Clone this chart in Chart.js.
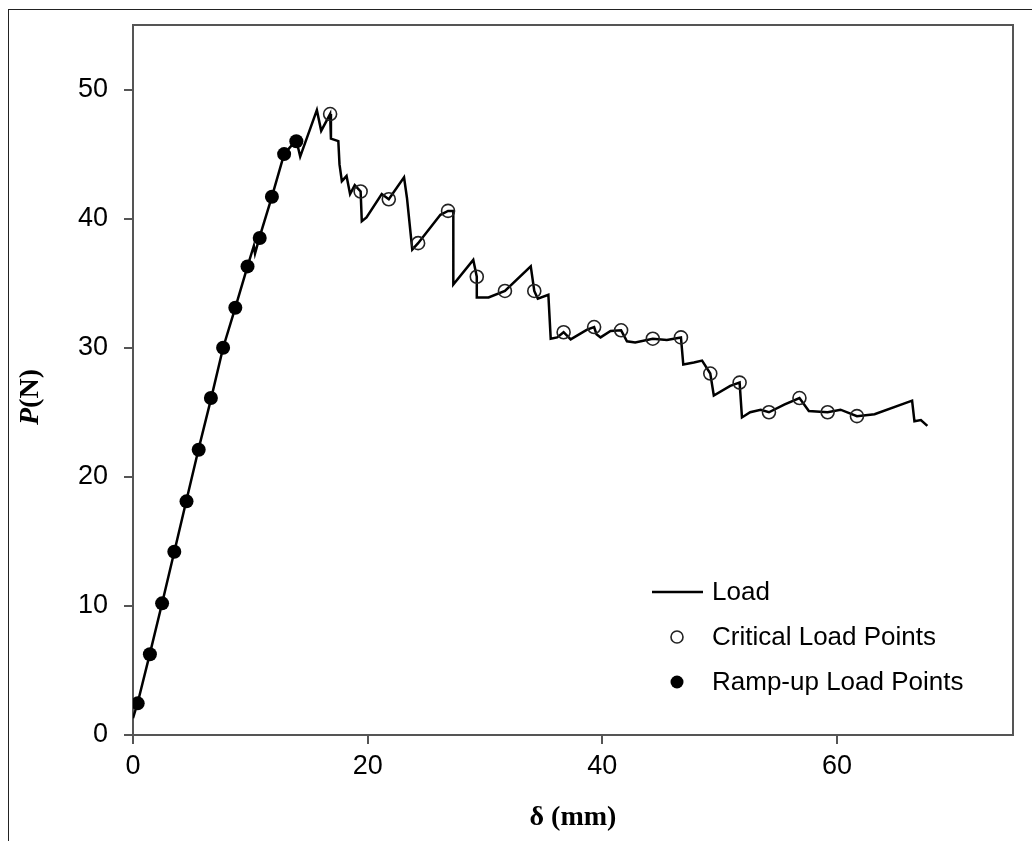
<!DOCTYPE html>
<html><head><meta charset="utf-8">
<script src="https://cdn.jsdelivr.net/npm/chart.js@4/dist/chart.umd.min.js"></script>
<style>
html,body{margin:0;padding:0;background:#fff;}
#wrap{position:relative;width:1032px;height:841px;overflow:hidden;}
#frame{position:absolute;left:8px;top:9px;width:1040px;height:900px;border-left:1.5px solid #222;border-top:1.5px solid #222;pointer-events:none;}
canvas{position:absolute;left:0;top:0;}
</style></head><body>
<div id="wrap"><canvas id="c" width="1032" height="841"></canvas><div id="frame"></div></div>
<script>
// Load curve (delta mm, P N)
const loadX = [0, 0.4, 1.44, 2.48, 3.52, 4.56, 5.6, 6.64, 7.68, 8.72, 9.76, 10.3, 10.4, 10.8, 11.84, 12.88, 13.92, 14.25, 15.67, 16.04, 16.8, 16.87, 17.5, 17.6, 17.8, 18.2, 18.5, 18.9, 19.4, 19.5, 19.9, 21.2, 21.8, 23.1, 23.35, 23.8, 24.3, 26.2, 26.85, 27.3, 27.3, 29.0, 29.3, 29.3, 30.3, 31.7, 33.9, 34.2, 34.5, 35.4, 35.6, 36.15, 36.7, 37.3, 38.7, 39.3, 39.5, 39.85, 40.7, 41.6, 42.1, 42.8, 44.3, 45.5, 46.7, 46.9, 47.8, 48.5, 49.2, 49.5, 50.9, 51.7, 51.9, 52.6, 53.5, 54.2, 55.5, 56.8, 57.2, 57.6, 59.2, 60.3, 61.7, 63.2, 66.4, 66.6, 67.15, 67.7];
const loadY = [1.3, 2.5, 6.3, 10.2, 14.2, 18.2, 22.2, 26.0, 30.0, 33.1, 36.3, 37.9, 37.3, 38.6, 41.7, 45.0, 46.1, 44.8, 48.4, 46.8, 48.1, 46.2, 46.0, 44.2, 42.9, 43.3, 41.9, 42.6, 42.1, 39.8, 40.1, 41.9, 41.5, 43.2, 41.6, 37.6, 38.1, 40.3, 40.6, 40.6, 34.9, 36.8, 35.5, 33.9, 33.9, 34.4, 36.3, 34.4, 33.8, 34.1, 30.7, 30.8, 31.2, 30.65, 31.4, 31.6, 31.05, 30.8, 31.3, 31.35, 30.5, 30.4, 30.7, 30.6, 30.8, 28.7, 28.85, 29.0, 28.0, 26.3, 27.05, 27.3, 24.6, 25.0, 25.2, 25.0, 25.6, 26.1, 25.6, 25.1, 25.0, 25.2, 24.7, 24.85, 25.9, 24.3, 24.4, 23.95];
// Critical load points
const criticalX = [16.8, 19.4, 21.8, 24.3, 26.85, 29.3, 31.7, 34.2, 36.7, 39.3, 41.6, 44.3, 46.7, 49.2, 51.7, 54.2, 56.8, 59.2, 61.7];
const criticalY = [48.1, 42.1, 41.5, 38.1, 40.6, 35.5, 34.4, 34.4, 31.2, 31.6, 31.35, 30.7, 30.8, 28.0, 27.3, 25.0, 26.1, 25.0, 24.7];
// Ramp-up load points
const rampX = [0.4, 1.44, 2.48, 3.52, 4.56, 5.6, 6.64, 7.68, 8.72, 9.76, 10.8, 11.84, 12.88, 13.92];
const rampY = [2.45, 6.25, 10.2, 14.2, 18.1, 22.1, 26.1, 30.0, 33.1, 36.3, 38.5, 41.7, 45.0, 46.0];
// Axis ticks
const xTicks = [0, 20, 40, 60];
const yTicks = [0, 10, 20, 30, 40, 50];
const seriesNames = ['Load', 'Critical Load Points', 'Ramp-up Load Points'];

const pts = (xs, ys) => xs.map((x, i) => ({x: x, y: ys[i]}));
const SANS = '"Liberation Sans", Arial, sans-serif';
const SERIF = '"Liberation Serif", "Times New Roman", serif';

const decor = {
  id: 'decor',
  afterDraw(chart) {
    const ctx = chart.ctx, a = chart.chartArea;
    ctx.save();
    ctx.strokeStyle = '#555'; ctx.lineWidth = 2;
    ctx.beginPath();
    ctx.moveTo(a.left, a.top); ctx.lineTo(a.right, a.top); ctx.lineTo(a.right, a.bottom);
    ctx.stroke();
    ctx.fillStyle = '#000';
    ctx.font = 'bold 28px ' + SERIF;
    ctx.textAlign = 'center'; ctx.textBaseline = 'middle';
    ctx.fillText('δ (mm)', (a.left + a.right) / 2, 818);
    ctx.translate(31, 397);
    ctx.rotate(-Math.PI / 2);
    ctx.textBaseline = 'middle'; ctx.textAlign = 'left';
    const f1 = 'italic bold 28px ' + SERIF, f2 = 'bold 28px ' + SERIF;
    ctx.font = f1; const w1 = ctx.measureText('P').width;
    ctx.font = f2; const w2 = ctx.measureText('(N)').width;
    const x0 = -(w1 + w2) / 2;
    ctx.font = f1; ctx.fillText('P', x0, 0);
    ctx.font = f2; ctx.fillText('(N)', x0 + w1, 0);
    ctx.restore();
    ctx.save();
    const ds = chart.data.datasets;
    ctx.font = '26px ' + SANS;
    ctx.textAlign = 'left'; ctx.textBaseline = 'middle';
    const rows = [592, 637, 682];
    ctx.strokeStyle = ds[0].borderColor; ctx.lineWidth = ds[0].borderWidth;
    ctx.beginPath(); ctx.moveTo(652, rows[0]); ctx.lineTo(703, rows[0]); ctx.stroke();
    ctx.lineWidth = ds[1].borderWidth; ctx.strokeStyle = ds[1].borderColor;
    ctx.beginPath(); ctx.arc(677, rows[1], 6, 0, Math.PI * 2); ctx.stroke();
    ctx.fillStyle = ds[2].backgroundColor;
    ctx.beginPath(); ctx.arc(677, rows[2], 6.5, 0, Math.PI * 2); ctx.fill();
    ctx.fillStyle = '#000';
    seriesNames.forEach((n, i) => ctx.fillText(n, 712, rows[i] + 1));
    ctx.restore();
  }
};

new Chart(document.getElementById('c'), {
  type: 'scatter',
  data: {
    datasets: [
      {label: seriesNames[0], data: pts(loadX, loadY), showLine: true, borderColor: '#000', borderWidth: 2.5,
       pointRadius: 0, fill: false, tension: 0, order: 2},
      {label: seriesNames[1], data: pts(criticalX, criticalY), showLine: false, pointRadius: 6.5, pointStyle: 'circle',
       backgroundColor: 'rgba(0,0,0,0)', borderColor: '#222', borderWidth: 1.6, order: 1},
      {label: seriesNames[2], data: pts(rampX, rampY), showLine: false, pointRadius: 7, pointStyle: 'circle',
       backgroundColor: '#000', borderColor: '#000', borderWidth: 0, order: 1}
    ]
  },
  options: {
    responsive: false, animation: false, devicePixelRatio: 1,
    layout: {padding: {top: 25, right: 19, left: 0, bottom: 0}},
    plugins: {legend: {display: false}, tooltip: {enabled: false}},
    scales: {
      x: {
        type: 'linear', position: 'bottom', min: 0, max: 75,
        afterFit: s => { s.height = 106; s.paddingLeft = 0; s.paddingRight = 0; },
        afterBuildTicks: s => { s.ticks = xTicks.map(v => ({value: v})); },
        ticks: {font: {family: SANS, size: 27}, color: '#000', padding: 6, maxRotation: 0},
        grid: {drawOnChartArea: false, drawTicks: true, tickLength: 9, color: '#555', lineWidth: 2},
        border: {display: true, color: '#555', width: 2}
      },
      y: {
        type: 'linear', min: 0, max: 55,
        afterFit: s => { s.width = 133; s.paddingTop = 0; s.paddingBottom = 0; },
        afterBuildTicks: s => { s.ticks = yTicks.map(v => ({value: v})); },
        ticks: {font: {family: SANS, size: 27}, color: '#000', padding: 16},
        grid: {drawOnChartArea: false, drawTicks: true, tickLength: 9, color: '#555', lineWidth: 2},
        border: {display: true, color: '#555', width: 2}
      }
    }
  },
  plugins: [decor]
});
</script>
</body></html>
